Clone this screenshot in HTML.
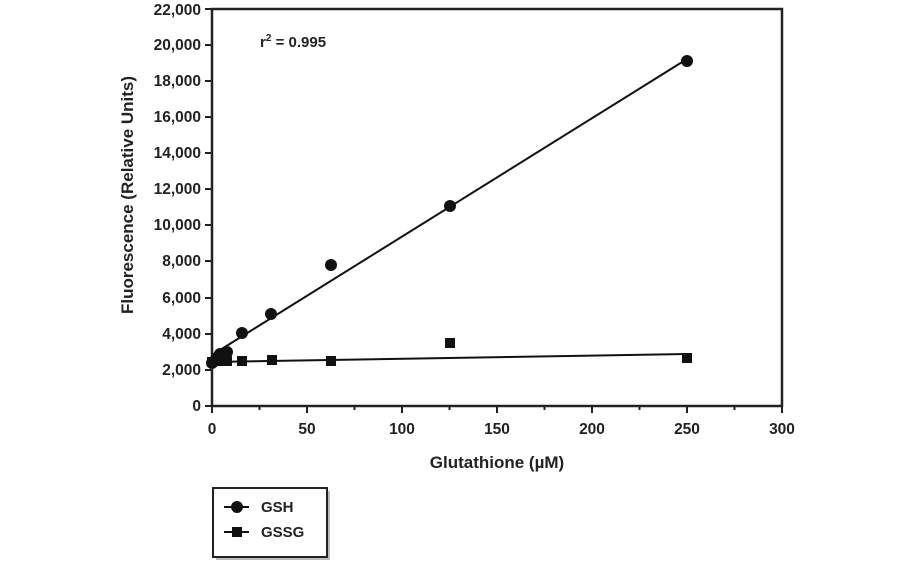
<!DOCTYPE html>
<html><head><style>body{margin:0;background:#fff}svg text{font-family:"Liberation Sans",Arial,sans-serif;font-weight:bold;fill:#222}</style></head>
<body>
<svg width="912" height="562" xmlns="http://www.w3.org/2000/svg">
<g stroke="#222" fill="none">
<rect x="212" y="9" width="570" height="397" stroke-width="2.5"/>
</g>
<g stroke="#222" stroke-width="2">
<line x1="205" y1="406" x2="212" y2="406"/><line x1="205" y1="370" x2="212" y2="370"/><line x1="205" y1="334" x2="212" y2="334"/><line x1="205" y1="298" x2="212" y2="298"/><line x1="205" y1="261" x2="212" y2="261"/><line x1="205" y1="225" x2="212" y2="225"/><line x1="205" y1="189" x2="212" y2="189"/><line x1="205" y1="153" x2="212" y2="153"/><line x1="205" y1="117" x2="212" y2="117"/><line x1="205" y1="81" x2="212" y2="81"/><line x1="205" y1="45" x2="212" y2="45"/><line x1="205" y1="9" x2="212" y2="9"/>
<line x1="212" y1="406" x2="212" y2="413"/><line x1="259.5" y1="406" x2="259.5" y2="410"/><line x1="307" y1="406" x2="307" y2="413"/><line x1="354.5" y1="406" x2="354.5" y2="410"/><line x1="402" y1="406" x2="402" y2="413"/><line x1="449.5" y1="406" x2="449.5" y2="410"/><line x1="497" y1="406" x2="497" y2="413"/><line x1="544.5" y1="406" x2="544.5" y2="410"/><line x1="592" y1="406" x2="592" y2="413"/><line x1="639.5" y1="406" x2="639.5" y2="410"/><line x1="687" y1="406" x2="687" y2="413"/><line x1="734.5" y1="406" x2="734.5" y2="410"/><line x1="782" y1="406" x2="782" y2="413"/>
</g>
<g font-size="15.5" text-anchor="end">
<text x="201" y="411">0</text><text x="201" y="375">2,000</text><text x="201" y="339">4,000</text><text x="201" y="303">6,000</text><text x="201" y="266">8,000</text><text x="201" y="230">10,000</text><text x="201" y="194">12,000</text><text x="201" y="158">14,000</text><text x="201" y="122">16,000</text><text x="201" y="86">18,000</text><text x="201" y="50">20,000</text><text x="201" y="15">22,000</text>
</g>
<g font-size="15.5" text-anchor="middle">
<text x="212" y="434">0</text><text x="307" y="434">50</text><text x="402" y="434">100</text><text x="497" y="434">150</text><text x="592" y="434">200</text><text x="687" y="434">250</text><text x="782" y="434">300</text>
<text x="497" y="468" font-size="17">Glutathione (µM)</text>
<text transform="translate(133,195) rotate(-90)" font-size="17">Fluorescence (Relative Units)</text>
</g>
<text x="260" y="47" font-size="15">r<tspan font-size="10" dy="-6">2</tspan><tspan dy="6"> = 0.995</tspan></text>
<g stroke="#111" stroke-width="2">
<line x1="212" y1="355" x2="687" y2="59"/>
<line x1="212" y1="362" x2="687" y2="354"/>
</g>
<g fill="#111">
<circle cx="212" cy="363" r="6"/><circle cx="216" cy="359" r="6"/><circle cx="220" cy="354" r="6"/><circle cx="227" cy="352" r="6"/><circle cx="242" cy="333" r="6"/><circle cx="271" cy="314" r="6"/><circle cx="331" cy="265" r="6"/><circle cx="450" cy="206" r="6"/><circle cx="687" cy="61" r="6"/>
<rect x="207" y="357" width="10" height="10"/><rect x="215" y="356" width="10" height="10"/><rect x="222" y="356" width="10" height="10"/><rect x="237" y="356" width="10" height="10"/><rect x="267" y="355" width="10" height="10"/><rect x="326" y="356" width="10" height="10"/><rect x="445" y="338" width="10" height="10"/><rect x="682" y="353" width="10" height="10"/>
</g>
<rect x="216" y="491" width="114" height="69" fill="#bbb"/>
<rect x="213" y="488" width="114" height="69" fill="#fff" stroke="#222" stroke-width="2"/>
<g stroke="#111" stroke-width="2"><line x1="224" y1="507" x2="249" y2="507"/><line x1="224" y1="532" x2="249" y2="532"/></g>
<circle cx="237" cy="507" r="6" fill="#111"/><rect x="232" y="527" width="10" height="10" fill="#111"/>
<text x="261" y="512" font-size="15">GSH</text><text x="261" y="537" font-size="15">GSSG</text>
</svg>
</body></html>
